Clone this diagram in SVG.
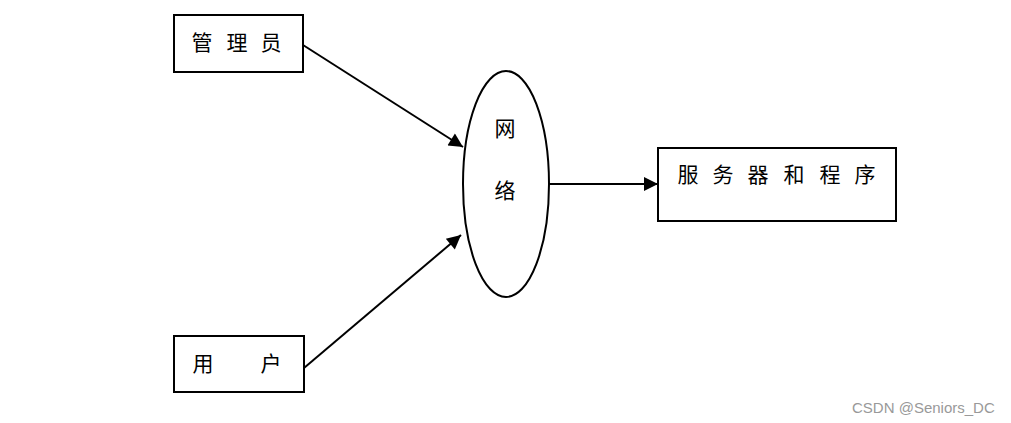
<svg xmlns="http://www.w3.org/2000/svg" width="1011" height="423" viewBox="0 0 1011 423">
<style>
.box{fill:#fff;stroke:#000;stroke-width:2}
.ln{stroke:#000;stroke-width:2;fill:none}
.t{font-family:"Noto Sans CJK SC","Noto Sans",sans-serif;font-size:21px;fill:#000;text-anchor:middle}
.wm{font-family:"Liberation Sans",Arial,sans-serif;font-size:15px;fill:#999}
</style>
<defs>
<marker id="ah2" viewBox="0 0 10 10" refX="10" refY="5" markerWidth="16" markerHeight="14" markerUnits="userSpaceOnUse" orient="auto">
<path d="M0,0 L10,5 L0,10 Z" fill="#000"/>
</marker>
</defs>
<rect width="1011" height="423" fill="#fff"/>
<g id="connectors">
<line class="ln" x1="303" y1="45" x2="463" y2="147" marker-end="url(#ah2)"/>
<line class="ln" x1="304" y1="368" x2="461" y2="235" marker-end="url(#ah2)"/>
<line class="ln" x1="549" y1="184" x2="658" y2="184" marker-end="url(#ah2)"/>
</g>
<g id="admin">
<rect class="box" x="174" y="15" width="129" height="57"/>
<text class="t" x="202" y="50">管</text>
<text class="t" x="237" y="50">理</text>
<text class="t" x="271" y="50">员</text>
</g>
<g id="user">
<rect class="box" x="174" y="336" width="130" height="56"/>
<text class="t" x="203" y="371">用</text>
<text class="t" x="271" y="371">户</text>
</g>
<g id="network">
<ellipse class="box" cx="506" cy="184" rx="43" ry="113"/>
<text class="t" x="505" y="136">网</text>
<text class="t" x="505" y="198">络</text>
</g>
<g id="server">
<rect class="box" x="658" y="148" width="238" height="73"/>
<text class="t" x="688" y="182">服</text>
<text class="t" x="723" y="182">务</text>
<text class="t" x="758" y="182">器</text>
<text class="t" x="794" y="182">和</text>
<text class="t" x="830" y="182">程</text>
<text class="t" x="865" y="182">序</text>
</g>
<text class="wm" x="852" y="413">CSDN @Seniors_DC</text>
</svg>
